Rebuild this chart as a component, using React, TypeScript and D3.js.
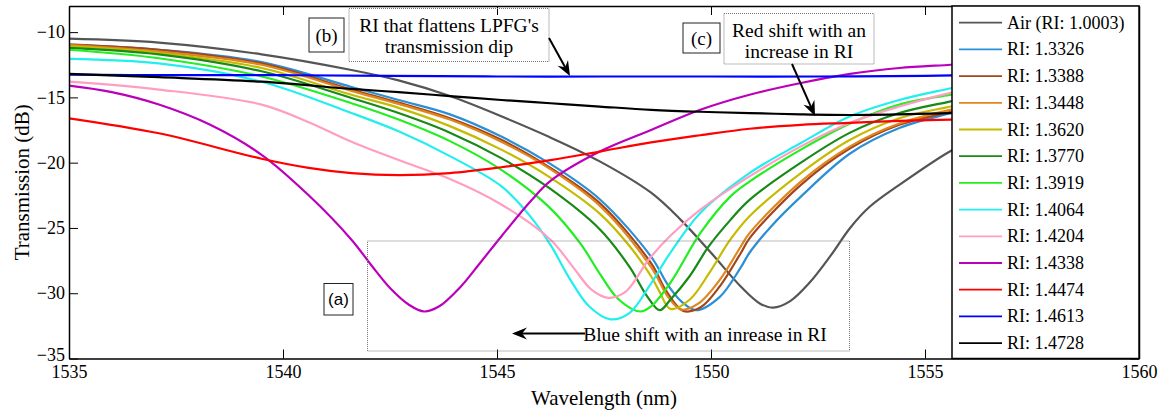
import { useEffect, useRef } from 'react';
import * as d3 from 'd3';

type Pt = [number, number];

// wavelength (nm), transmission (dB)
const seriesNames = [
  'Air (RI: 1.0003)', 'RI: 1.3326', 'RI: 1.3388', 'RI: 1.3448', 'RI: 1.3620',
  'RI: 1.3770', 'RI: 1.3919', 'RI: 1.4064', 'RI: 1.4204', 'RI: 1.4338',
  'RI: 1.4474', 'RI: 1.4613', 'RI: 1.4728',
];

const air: Pt[] = [
  [1535, -10.5], [1537.1, -10.8], [1539.5, -11.7], [1541.6, -12.9], [1542.7, -13.7],
  [1543.9, -14.9], [1545.1, -16.45], [1546.2, -18.0], [1547.4, -19.9], [1548.6, -22.3],
  [1549.3, -24.4], [1550.0, -26.9], [1550.7, -29.5], [1551.15, -30.8], [1551.45, -31.1],
  [1551.85, -30.6], [1552.3, -29.2], [1552.8, -27.1], [1553.25, -25.0], [1553.7, -23.4],
  [1554.4, -21.7], [1555.6, -19.1], [1556, -18.5],
];
const ri13326: Pt[] = [
  [1535, -10.95], [1537.1, -11.35], [1539.5, -12.3], [1541.6, -14.2], [1542.7, -15.2],
  [1543.9, -16.3], [1545.1, -18.0], [1546.2, -20.0], [1547.4, -22.8], [1548.6, -27.2],
  [1549.0, -29.4], [1549.3, -30.6], [1549.65, -31.3], [1550.2, -30.3], [1550.7, -28.0],
  [1550.9, -26.9], [1551.4, -24.9], [1552.1, -22.6], [1553.25, -19.3], [1554.4, -17.35],
  [1555.6, -16.2], [1556, -15.9],
];
const ri13388: Pt[] = [
  [1535, -10.95], [1537.1, -11.35], [1539.5, -12.4], [1541.6, -14.4], [1542.7, -15.4],
  [1543.9, -16.6], [1545.1, -18.25], [1546.2, -20.3], [1547.4, -23.1], [1548.6, -27.7],
  [1548.95, -29.8], [1549.35, -31.35], [1549.75, -31.1], [1550.2, -29.5], [1550.7, -26.9],
  [1550.9, -25.8], [1552.1, -21.7], [1553.25, -18.9], [1554.4, -17.1], [1555.6, -16.1],
  [1556, -15.8],
];
const ri13448: Pt[] = [
  [1535, -11.0], [1537.1, -11.5], [1539.5, -12.5], [1541.6, -14.5], [1542.7, -15.5],
  [1543.9, -16.7], [1545.1, -18.4], [1546.2, -20.4], [1547.4, -23.3], [1548.6, -28.0],
  [1549.0, -30.3], [1549.3, -31.25], [1549.7, -30.8], [1550.2, -29.0], [1550.7, -26.4],
  [1550.9, -25.4], [1552.1, -21.45], [1553.25, -18.75], [1554.4, -17.0], [1555.6, -15.95],
  [1556, -15.7],
];
const ri13620: Pt[] = [
  [1535, -11.1], [1537.1, -11.6], [1539.5, -12.75], [1541.6, -14.8], [1542.7, -15.8],
  [1543.9, -17.2], [1545.1, -19.0], [1546.2, -21.05], [1547.4, -23.9], [1548.1, -26.4],
  [1548.6, -28.7], [1548.8, -29.9], [1549.05, -31.2], [1549.5, -30.5], [1549.95, -28.5],
  [1550.45, -25.9], [1550.9, -24.1], [1552.1, -20.8], [1553.25, -18.25], [1554.4, -16.6],
  [1555.6, -15.7], [1556, -15.4],
];
const ri13770: Pt[] = [
  [1535, -11.2], [1537.1, -11.7], [1539.5, -13.0], [1541.6, -15.05], [1542.7, -16.2],
  [1543.9, -17.7], [1545.1, -19.65], [1546.2, -21.9], [1547.4, -25.1], [1548.1, -28.0],
  [1548.5, -30.2], [1548.8, -31.3], [1549.05, -30.5], [1549.5, -28.7], [1549.95, -26.4],
  [1550.45, -24.4], [1550.9, -22.85], [1552.1, -20.0], [1553.25, -17.7], [1554.4, -16.2],
  [1555.6, -15.3], [1556, -15.0],
];
const ri13919: Pt[] = [
  [1535, -11.35], [1537.1, -12.0], [1539.5, -13.4], [1541.6, -15.45], [1542.7, -16.7],
  [1543.9, -18.35], [1545.1, -20.55], [1546.2, -23.35], [1546.95, -26.2], [1547.4, -28.5],
  [1547.85, -30.5], [1548.35, -31.4], [1548.6, -31.0], [1549.05, -29.2], [1549.75, -25.4],
  [1550.45, -22.6], [1550.9, -21.45], [1552.1, -19.0], [1553.25, -17.0], [1554.4, -15.55],
  [1555.6, -14.8], [1556, -14.6],
];
const ri14064: Pt[] = [
  [1535, -12.05], [1537.1, -12.4], [1539.5, -13.8], [1541.6, -16.2], [1542.7, -17.6],
  [1543.9, -19.5], [1545.1, -21.8], [1545.75, -24.0], [1546.25, -26.3], [1546.7, -28.9],
  [1547.15, -31.0], [1547.65, -32.0], [1548.1, -31.5], [1548.55, -29.5], [1549.05, -26.9],
  [1549.75, -23.85], [1550.9, -20.8], [1552.1, -18.5], [1553.25, -16.45], [1554.4, -15.2],
  [1555.6, -14.3], [1556, -14.0],
];
const ri14204: Pt[] = [
  [1535, -13.8], [1537.1, -14.4], [1539.5, -15.55], [1540.6, -16.9], [1541.6, -18.4],
  [1542.7, -19.8], [1543.9, -21.25], [1545.1, -23.2], [1546.25, -25.9], [1546.8, -28.1],
  [1547.2, -29.7], [1547.6, -30.35], [1548.0, -29.9], [1548.55, -27.4], [1549.05, -25.6],
  [1549.75, -23.6], [1550.9, -21.05], [1552.1, -18.75], [1553.25, -16.95], [1554.4, -15.7],
  [1555.6, -14.65], [1556, -14.4],
];
const ri14338: Pt[] = [
  [1535, -14.1], [1536.0, -14.6], [1537.1, -15.55], [1538.3, -17.1], [1539.5, -19.4],
  [1540.6, -22.5], [1541.6, -25.9], [1542.05, -27.8], [1542.5, -29.6], [1542.95, -30.9],
  [1543.3, -31.4], [1543.65, -31.0], [1544.15, -29.5], [1544.6, -27.7], [1545.1, -25.65],
  [1545.8, -22.9], [1546.25, -21.4], [1547.4, -19.15], [1548.6, -17.5], [1549.75, -15.95],
  [1550.9, -14.8], [1552.1, -13.9], [1553.25, -13.2], [1554.4, -12.75], [1555.6, -12.5],
  [1556, -12.4],
];
const ri14474: Pt[] = [
  [1535, -16.6], [1537.1, -17.75], [1539.5, -19.7], [1540.6, -20.4], [1541.6, -20.8],
  [1542.7, -20.95], [1543.9, -20.8], [1545.1, -20.35], [1546.25, -19.8], [1547.4, -19.15],
  [1548.6, -18.45], [1549.75, -17.9], [1550.9, -17.4], [1552.1, -17.1], [1553.25, -16.95],
  [1554.4, -16.8], [1555.6, -16.7], [1556, -16.65],
];
const ri14613: Pt[] = [
  [1535, -13.25], [1537.5, -13.3], [1540, -13.3], [1542.5, -13.35], [1545, -13.4],
  [1547.5, -13.4], [1550, -13.4], [1552.5, -13.4], [1555, -13.35], [1556, -13.3],
];
const ri14728: Pt[] = [
  [1535, -13.2], [1537.1, -13.45], [1539.5, -13.8], [1541.6, -14.35], [1542.7, -14.6],
  [1543.9, -14.9], [1545.1, -15.2], [1546.25, -15.45], [1547.4, -15.7], [1548.6, -15.95],
  [1549.75, -16.1], [1550.9, -16.2], [1552.1, -16.3], [1553.25, -16.35], [1554.4, -16.3],
  [1555.6, -16.2], [1556, -16.2],
];

const allSeries = [
  air, ri13326, ri13388, ri13448, ri13620, ri13770, ri13919,
  ri14064, ri14204, ri14338, ri14474, ri14613, ri14728,
];

const seriesColors = [
  '#555555', '#2b8fd6', '#a3461c', '#e0861e', '#c4bc00', '#178a17', '#22ee22',
  '#22eeee', '#ff9ec0', '#bb00bb', '#ff0000', '#0000ff', '#000000',
];

const xTicks = [1535, 1540, 1545, 1550, 1555, 1560];
const yTicks = [-35, -30, -25, -20, -15, -10];

const SERIF = '"Liberation Serif", "Times New Roman", serif';
const SANS = '"Liberation Sans", Arial, sans-serif';

export default function App() {
  const svgRef = useRef<SVGSVGElement>(null);

  useEffect(() => {
    if (!svgRef.current) return;
    const svg = d3.select(svgRef.current);
    svg.selectAll('*').remove();

    const left = 69, right = 1139, top = 6, bottom = 358.5;
    const x = d3.scaleLinear().domain([1535, 1560]).range([left, right]);
    const y = d3.scaleLinear().domain([-35, -8]).range([bottom, top]);

    svg.append('rect').attr('width', 1165).attr('height', 410).attr('fill', '#fff');

    svg.append('defs').append('clipPath').attr('id', 'plot-clip')
      .append('rect')
      .attr('x', left).attr('y', top)
      .attr('width', right - left).attr('height', bottom - top);

    // spectra
    const line = d3.line<Pt>()
      .x(d => x(d[0]))
      .y(d => y(d[1]))
      .curve(d3.curveCatmullRom.alpha(0.5));

    const curves = svg.append('g').attr('clip-path', 'url(#plot-clip)');
    allSeries.forEach((s, i) => {
      curves.append('path')
        .attr('d', line(s))
        .attr('fill', 'none')
        .attr('stroke', seriesColors[i])
        .attr('stroke-width', 2.2)
        .attr('stroke-linejoin', 'round');
    });

    // axes (ticks pointing inward, like matlab)
    const styleAxis = (g: d3.Selection<SVGGElement, unknown, null, undefined>) => {
      g.attr('font-family', SERIF);
      g.select('.domain').attr('stroke', '#000').attr('stroke-width', 1.5);
      g.selectAll('.tick line').attr('stroke', '#000').attr('stroke-width', 1);
      g.selectAll('.tick text')
        .attr('fill', '#000')
        .style('font-family', SERIF)
        .style('font-size', '18px');
    };

    svg.append('g')
      .attr('transform', `translate(0,${bottom})`)
      .call(d3.axisBottom(x).tickValues(xTicks).tickSizeInner(-9).tickSizeOuter(0).tickPadding(7).tickFormat(d3.format('d')))
      .call(styleAxis);

    svg.append('g')
      .attr('transform', `translate(0,${top})`)
      .call(d3.axisTop(x).tickValues(xTicks).tickSizeInner(-9).tickSizeOuter(0).tickFormat(() => ''))
      .call(styleAxis);

    svg.append('g')
      .attr('transform', `translate(${left},0)`)
      .call(d3.axisLeft(y).tickValues(yTicks).tickSizeInner(-9).tickSizeOuter(0).tickPadding(4).tickFormat(d3.format('d')))
      .call(styleAxis)
      .call(g => g.selectAll('.tick text').attr('dy', (d) => (d === -35 ? '0.1em' : '0.32em')));

    svg.append('g')
      .attr('transform', `translate(${right},0)`)
      .call(d3.axisRight(y).tickValues(yTicks).tickSizeInner(-9).tickSizeOuter(0).tickFormat(() => ''))
      .call(styleAxis);

    // axis titles
    svg.append('text')
      .attr('x', (left + right) / 2)
      .attr('y', 405)
      .attr('text-anchor', 'middle')
      .style('font-family', SERIF)
      .style('font-size', '21px')
      .text('Wavelength (nm)');

    svg.append('text')
      .attr('transform', `translate(29,${(top + bottom) / 2}) rotate(-90)`)
      .attr('text-anchor', 'middle')
      .style('font-family', SERIF)
      .style('font-size', '21px')
      .text('Transmission (dB)');

    // annotations
    const ann = svg.append('g');

    const box = (bx: number, by: number, bw: number, bh: number, stroke: string, dash?: string) => {
      ann.append('rect')
        .attr('x', bx).attr('y', by).attr('width', bw).attr('height', bh)
        .attr('fill', 'none')
        .attr('stroke', stroke)
        .attr('stroke-width', 1)
        .attr('stroke-dasharray', dash ?? null);
    };

    const label = (tx: number, ty: number, lines: string[], size: number, family = SERIF) => {
      lines.forEach((t, i) => {
        ann.append('text')
          .attr('x', tx)
          .attr('y', ty + i * 21.7)
          .attr('text-anchor', 'middle')
          .attr('dominant-baseline', 'central')
          .style('font-family', family)
          .style('font-size', `${size}px`)
          .text(t);
      });
    };

    const arrow = (x1: number, y1: number, x2: number, y2: number) => {
      const a = Math.atan2(y2 - y1, x2 - x1);
      const len = 15, half = 6, back = 10;
      const bx = x2 - back * Math.cos(a), by = y2 - back * Math.sin(a);
      ann.append('line')
        .attr('x1', x1).attr('y1', y1).attr('x2', bx).attr('y2', by)
        .attr('stroke', '#000').attr('stroke-width', 2);
      const p1 = [x2 - len * Math.cos(a) + half * Math.sin(a), y2 - len * Math.sin(a) - half * Math.cos(a)];
      const p2 = [x2 - len * Math.cos(a) - half * Math.sin(a), y2 - len * Math.sin(a) + half * Math.cos(a)];
      ann.append('path')
        .attr('d', `M${x2},${y2}L${p1[0]},${p1[1]}L${bx},${by}L${p2[0]},${p2[1]}Z`)
        .attr('fill', '#000');
    };

    // (b)
    box(309, 18, 35, 34, '#222');
    label(326.5, 35, ['(b)'], 19);
    box(349, 8.5, 200, 53, '#777', '1,1');
    label(449, 25, ["RI that flattens LPFG's", 'transmission dip'], 19.5);
    arrow(549, 38, 570, 76);

    // (c)
    box(683, 23, 37, 30, '#222');
    label(701.5, 38, ['(c)'], 19);
    box(724, 13.5, 150, 50.5, '#777', '1,1');
    label(799, 30, ['Red shift with an', 'increase in RI'], 19.5);
    arrow(792, 64, 815, 116);

    // (a)
    box(324, 283.5, 29, 31.5, '#222');
    label(338.5, 299.5, ['(a)'], 17, SANS);
    box(367.5, 241, 482, 110, '#777', '1,1');
    label(705, 334, ['Blue shift with an inrease in RI'], 19.5);
    arrow(585, 333.5, 512, 333.5);

    // legend
    const lg = svg.append('g');
    lg.append('rect')
      .attr('x', 952).attr('y', top)
      .attr('width', right - 952).attr('height', bottom - top)
      .attr('fill', '#fff')
      .attr('stroke', '#000')
      .attr('stroke-width', 1.5);

    seriesNames.forEach((name, i) => {
      const ly = 22.7 + i * 26.7;
      lg.append('line')
        .attr('x1', 959).attr('x2', 1002)
        .attr('y1', ly).attr('y2', ly)
        .attr('stroke', seriesColors[i])
        .attr('stroke-width', 1.8);
      lg.append('text')
        .attr('x', 1007)
        .attr('y', ly)
        .attr('dominant-baseline', 'central')
        .style('font-family', SERIF)
        .style('font-size', '18px')
        .text(name);
    });
  }, []);

  return (
    <svg
      ref={svgRef}
      width={1165}
      height={410}
      style={{ position: 'absolute', left: 0, top: 0, display: 'block' }}
    />
  );
}
